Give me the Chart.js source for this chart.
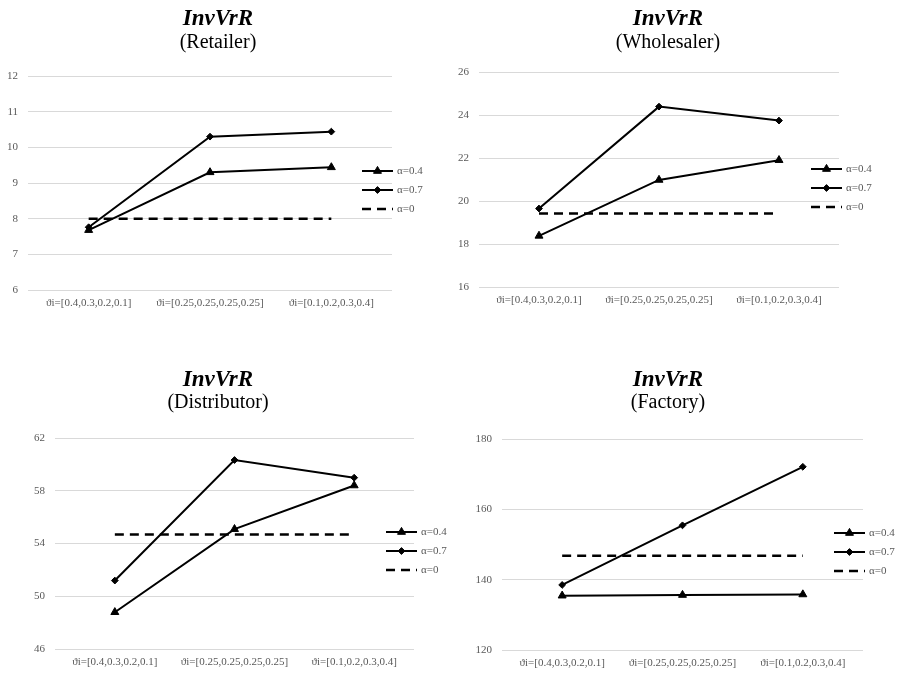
<!DOCTYPE html>
<html>
<head>
<meta charset="utf-8">
<script src="https://cdn.jsdelivr.net/npm/chart.js@4.4.1/dist/chart.umd.min.js"></script>
<style>
  html, body { margin: 0; padding: 0; background: #ffffff; }
  #wrap { position: relative; width: 900px; height: 673px; overflow: hidden; }
  #wrap canvas { position: absolute; }
</style>
</head>
<body>
<div id="wrap">
  <canvas id="retailer" width="450" height="330" style="left:0;top:0"></canvas>
  <canvas id="wholesaler" width="450" height="330" style="left:450px;top:0"></canvas>
  <canvas id="distributor" width="450" height="343" style="left:0;top:330px"></canvas>
  <canvas id="factory" width="450" height="343" style="left:450px;top:330px"></canvas>
</div>
<script>
// Weight profiles along the chain
const categories = ['ϑi=[0.4,0.3,0.2,0.1]', 'ϑi=[0.25,0.25,0.25,0.25]', 'ϑi=[0.1,0.2,0.3,0.4]'];
const seriesNames = ['α=0.4', 'α=0.7', 'α=0'];
const chartTitle = 'InvVrR';
const stageNames = ['(Retailer)', '(Wholesaler)', '(Distributor)', '(Factory)'];

// InvVrR per stage and smoothing factor
const retailerA04 = [7.68, 9.30, 9.44];
const retailerA07 = [7.76, 10.30, 10.44];
const retailerA0 = [8.0, 8.0, 8.0];

const wholesalerA04 = [18.38, 20.98, 21.90];
const wholesalerA07 = [19.65, 24.39, 23.74];
const wholesalerA0 = [19.42, 19.42, 19.42];

const distributorA04 = [48.79, 55.09, 58.40];
const distributorA07 = [51.19, 60.33, 58.99];
const distributorA0 = [54.68, 54.68, 54.68];

const factoryA04 = [135.45, 135.64, 135.80];
const factoryA07 = [138.50, 155.45, 172.10];
const factoryA0 = [146.8, 146.8, 146.8];

// Value-axis ticks for each stage
const retailerTicks = [6, 7, 8, 9, 10, 11, 12];
const wholesalerTicks = [16, 18, 20, 22, 24, 26];
const distributorTicks = [46, 50, 54, 58, 62];
const factoryTicks = [120, 140, 160, 180];

const SERIF = '"Liberation Serif", "Times New Roman", serif';
const GREY_TEXT = '#595959';

// Title, subtitle and a line-with-marker legend drawn on each panel
const panelDecor = {
  id: 'panelDecor',
  afterDraw(chart, args, opts) {
    const ctx = chart.ctx;
    ctx.save();
    ctx.fillStyle = '#000';
    ctx.textAlign = 'center';
    ctx.textBaseline = 'middle';
    ctx.font = 'italic bold 23px ' + SERIF;
    ctx.fillText(opts.title, opts.centerX, opts.titleY);
    ctx.font = '20px ' + SERIF;
    ctx.fillText(opts.subtitle, opts.centerX, opts.subY);

    chart.data.datasets.forEach((ds, i) => {
      const y = opts.legendY + i * 19;
      const x0 = opts.legendX, x1 = opts.legendX + 31;
      ctx.save();
      ctx.strokeStyle = ds.borderColor;
      ctx.lineWidth = ds.borderWidth;
      ctx.setLineDash(ds.borderDash || []);
      ctx.beginPath();
      ctx.moveTo(x0, y);
      ctx.lineTo(x1, y);
      ctx.stroke();
      ctx.restore();
      if (ds.pointRadius > 0) {
        ctx.fillStyle = ds.pointBackgroundColor;
        ctx.strokeStyle = ds.pointBorderColor;
        ctx.lineWidth = 1;
        Chart.helpers.drawPoint(ctx, {
          pointStyle: ds.pointStyle, rotation: 0,
          radius: ds.pointRadius, borderWidth: 1
        }, (x0 + x1) / 2, y);
      }
      ctx.fillStyle = GREY_TEXT;
      ctx.font = '11px ' + SERIF;
      ctx.textAlign = 'left';
      ctx.textBaseline = 'middle';
      ctx.fillText(ds.label, x1 + 4, y + 0.5);
    });
    ctx.restore();
  }
};

function makeDatasets(a04, a07, a0) {
  return [
    { label: seriesNames[0], data: a04, borderColor: '#000', borderWidth: 2,
      pointStyle: 'triangle', pointRadius: 4.6, pointBackgroundColor: '#000',
      pointBorderColor: '#000', pointBorderWidth: 1 },
    { label: seriesNames[1], data: a07, borderColor: '#000', borderWidth: 2,
      pointStyle: 'rectRot', pointRadius: 3.4, pointBackgroundColor: '#000',
      pointBorderColor: '#000', pointBorderWidth: 1 },
    { label: seriesNames[2], data: a0, borderColor: '#000', borderWidth: 2.5,
      borderDash: [9, 6], pointRadius: 0, pointBackgroundColor: '#000',
      pointBorderColor: '#000' }
  ];
}

function buildPanel(id, subtitle, datasets, ticks, box) {
  const canvas = document.getElementById(id);
  const H = canvas.height, W = canvas.width;
  const xAxisH = 24;
  return new Chart(canvas, {
    type: 'line',
    data: { labels: categories, datasets },
    options: {
      responsive: false,
      animation: false,
      devicePixelRatio: 1,
      events: [],
      layout: {
        padding: { left: 0, top: box.top, right: W - box.right, bottom: H - box.bottom - xAxisH }
      },
      plugins: {
        legend: { display: false },
        title: { display: false },
        tooltip: { enabled: false },
        panelDecor: {
          title: chartTitle, subtitle,
          centerX: 218, titleY: box.titleY, subY: box.subY,
          legendX: box.legendX, legendY: box.legendY
        }
      },
      scales: {
        x: {
          offset: true,
          grid: { display: false, drawTicks: false },
          border: { display: false },
          ticks: { color: GREY_TEXT, font: { family: SERIF, size: 11 }, padding: 7,
                   maxRotation: 0, autoSkip: false },
          afterFit: s => { s.height = xAxisH; }
        },
        y: {
          min: ticks[0],
          max: ticks[ticks.length - 1],
          afterBuildTicks: s => { s.ticks = ticks.map(v => ({ value: v })); },
          grid: { color: '#d9d9d9', lineWidth: 1, drawTicks: false },
          border: { display: false },
          ticks: { color: GREY_TEXT, font: { family: SERIF, size: 11 }, padding: 10 },
          afterFit: s => { s.width = box.left; }
        }
      }
    },
    plugins: [panelDecor]
  });
}

buildPanel('retailer', stageNames[0], makeDatasets(retailerA04, retailerA07, retailerA0), retailerTicks,
  { left: 28, right: 392, top: 76, bottom: 290, titleY: 19, subY: 43, legendX: 362, legendY: 171 });
buildPanel('wholesaler', stageNames[1], makeDatasets(wholesalerA04, wholesalerA07, wholesalerA0), wholesalerTicks,
  { left: 29, right: 389, top: 72, bottom: 287, titleY: 19, subY: 43, legendX: 361, legendY: 169 });
buildPanel('distributor', stageNames[2], makeDatasets(distributorA04, distributorA07, distributorA0), distributorTicks,
  { left: 55, right: 414, top: 108, bottom: 319, titleY: 50, subY: 73, legendX: 386, legendY: 202 });
buildPanel('factory', stageNames[3], makeDatasets(factoryA04, factoryA07, factoryA0), factoryTicks,
  { left: 52, right: 413, top: 109, bottom: 320, titleY: 50, subY: 73, legendX: 384, legendY: 203 });
</script>
</body>
</html>
